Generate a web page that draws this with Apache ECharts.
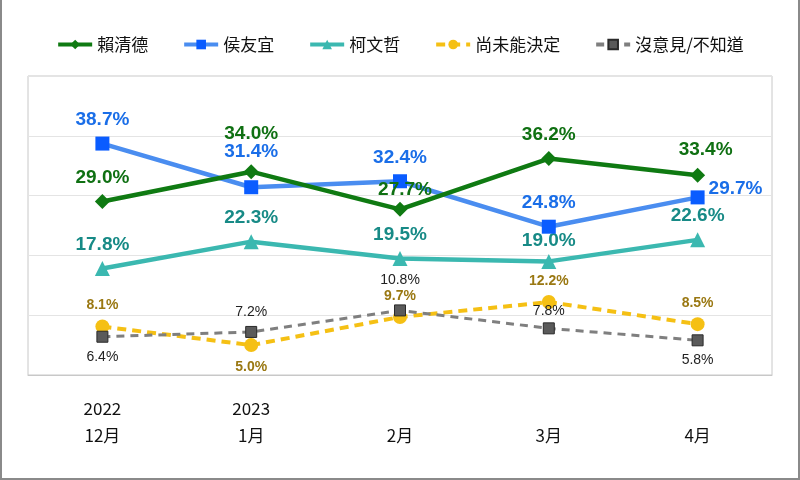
<!DOCTYPE html>
<html><head><meta charset="utf-8">
<script src="https://cdn.jsdelivr.net/npm/echarts@6/dist/echarts.min.js"></script>
<style>
html,body{margin:0;padding:0;background:#fff;}
#wrap{width:800px;height:480px;box-sizing:border-box;border-left:2px solid #8a8a8a;border-right:2px solid #8a8a8a;border-bottom:2px solid #8a8a8a;}
#c{width:796px;height:478px;}
</style></head>
<body><div id="wrap"><div id="c"></div></div>
<script>
var years = ['2022','2023','','',''];
var months = ['12月','1月','2月','3月','4月'];
var seriesNames = ['賴清德','侯友宜','柯文哲','尚未能決定','沒意見/不知道'];
var lai = [29.0, 34.0, 27.7, 36.2, 33.4];
var hou = [38.7, 31.4, 32.4, 24.8, 29.7];
var ko = [17.8, 22.3, 19.5, 19.0, 22.6];
var undecided = [8.1, 5.0, 9.7, 12.2, 8.5];
var noOpinion = [6.4, 7.2, 10.8, 7.8, 5.8];

var categories = months.map(function(m,i){ return years[i] + '\n' + m; });
var bigFont = 'Liberation Sans, Arial, sans-serif';

function pts(vals, overrides){
  return vals.map(function(v,i){
    var o = {value: v};
    if (overrides && overrides[i]) o.label = overrides[i];
    return o;
  });
}
function pctFmt(p){ return p.value.toFixed(1) + '%'; }

var chart = echarts.init(document.getElementById('c'));
chart.setOption({
  animation:false,
  legend:{
    top:31, left:'center', itemWidth:34, itemHeight:12, itemGap:34,
    lineStyle:{width:4},
    textStyle:{fontSize:17, color:'#111', fontFamily:'Noto Sans CJK TC'},
    data: seriesNames
  },
  grid:{left:26, right:26, top:76, bottom:103, show:true, borderColor:'#c8c8c8', borderWidth:1},
  xAxis:{
    type:'category', data:categories, boundaryGap:true,
    axisLine:{lineStyle:{color:'#c8c8c8'}},
    axisTick:{inside:true, length:6, lineStyle:{color:'#b0b0b0'}},
    axisLabel:{margin:20, fontSize:17, lineHeight:27, color:'#111', fontFamily:'Noto Sans CJK TC'}
  },
  yAxis:{
    type:'value', min:0, max:50, interval:10,
    axisLabel:{show:false}, axisLine:{show:false}, axisTick:{show:false},
    splitLine:{lineStyle:{color:'#e4e4e4'}}
  },
  series:[
    {
      name:seriesNames[0], type:'line', data:pts(lai,{1:{offset:[0,-14]},2:{offset:[5,4]},4:{offset:[8,-2]}}),
      symbol:'diamond', symbolSize:15,
      lineStyle:{color:'#0f7a12', width:4.5}, itemStyle:{color:'#0f7a12'},
      label:{show:true, position:'top', distance:7, formatter:pctFmt, color:'#0f7012', fontSize:19, fontWeight:'bold', fontFamily:bigFont},
      z:5
    },
    {
      name:seriesNames[1], type:'line', data:pts(hou,{1:{offset:[0,-12]},4:{position:'right', distance:4, offset:[0,-9]}}),
      symbol:'rect', symbolSize:14,
      lineStyle:{color:'#4a8df0', width:4.5}, itemStyle:{color:'#0a5cff'},
      label:{show:true, position:'top', distance:7, formatter:pctFmt, color:'#1a6ee8', fontSize:19, fontWeight:'bold', fontFamily:bigFont},
      z:4
    },
    {
      name:seriesNames[2], type:'line', data:pts(ko,{3:{offset:[0,3]}}),
      symbol:'triangle', symbolSize:15,
      lineStyle:{color:'#3bb8b0', width:4.5}, itemStyle:{color:'#3bb8b0'},
      label:{show:true, position:'top', distance:7, formatter:pctFmt, color:'#178a86', fontSize:19, fontWeight:'bold', fontFamily:bigFont},
      z:3
    },
    {
      name:seriesNames[3], type:'line', data:pts(undecided,{1:{position:'bottom', distance:8}}),
      symbol:'circle', symbolSize:14,
      lineStyle:{color:'#f5c014', width:4, type:[9,6]}, itemStyle:{color:'#f5c014'},
      label:{show:true, position:'top', distance:7, formatter:pctFmt, color:'#9a7812', fontSize:14, fontWeight:'bold', fontFamily:bigFont},
      z:2
    },
    {
      name:seriesNames[4], type:'line', data:pts(noOpinion,{0:{position:'bottom', distance:7},2:{distance:17},3:{distance:4},4:{position:'bottom', distance:7}}),
      symbol:'rect', symbolSize:11,
      lineStyle:{color:'#7f7f7f', width:3, type:[8,6]}, itemStyle:{color:'#5a5a5a', borderColor:'#2a2a2a', borderWidth:1},
      label:{show:true, position:'top', distance:7, formatter:pctFmt, color:'#222', fontSize:14, fontFamily:bigFont},
      z:2
    }
  ]
});
</script></body></html>
